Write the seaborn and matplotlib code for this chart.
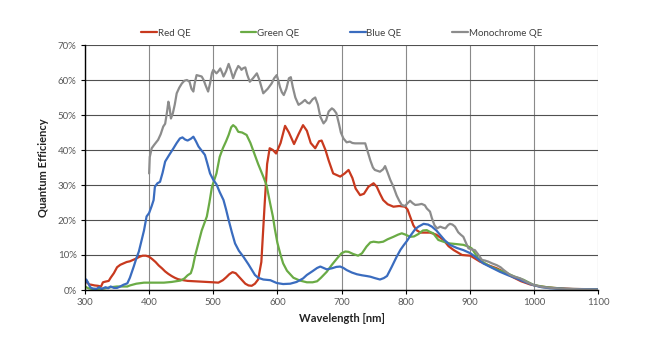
import matplotlib
matplotlib.use("Agg")
import matplotlib.pyplot as plt
import seaborn as sns
import pandas as pd
from matplotlib.ticker import PercentFormatter, MultipleLocator

red_wl = [300, 303, 306, 310, 315, 320, 325, 328, 332, 337, 340, 345, 350, 355, 360, 365, 370, 375, 380, 385,
          390, 395, 400, 405, 410, 415, 420, 425, 430, 435, 440, 445, 450, 460, 470, 480, 490, 500, 508, 515,
          520, 525, 530, 535, 540, 545, 550, 555, 560, 565, 570, 575, 580, 584, 588, 593, 598, 605, 612, 618,
          626, 633, 640, 646, 652, 659, 665, 669, 675, 680, 687, 698, 705, 711, 717, 722, 729, 735, 742, 750,
          755, 760, 765, 772, 781, 790, 799, 803, 808, 812, 817, 823, 838, 848, 859, 867, 875, 888, 901, 916,
          930, 942, 955, 968, 980, 994, 1010, 1030, 1060, 1100]
red_qe = [1.9, 2.5, 1.6, 1.5, 1.3, 1.2, 1.0, 2.2, 2.4, 2.6, 3.5, 4.8, 6.5, 7.2, 7.6, 8.0, 8.2, 8.6, 9.0, 9.5,
          9.8, 9.8, 9.5, 8.8, 8.0, 7.0, 6.2, 5.3, 4.6, 4.0, 3.5, 3.1, 2.9, 2.6, 2.5, 2.4, 2.3, 2.2, 2.1, 2.8,
          3.6, 4.5, 5.1, 4.8, 3.8, 2.8, 1.8, 1.3, 1.2, 1.8, 3.0, 8.0, 24.0, 36.0, 40.5, 40.0, 39.0, 42.0, 46.9, 45.0,
          41.7, 44.5, 47.1, 45.5, 42.0, 40.5, 42.5, 42.7, 40.0, 37.0, 33.3, 32.4, 33.3, 34.3, 32.0, 29.0, 27.1, 27.5, 29.5, 30.5,
          29.5, 27.5, 25.7, 24.5, 23.8, 24.0, 23.8, 23.0, 20.5, 18.5, 17.1, 16.4, 16.4, 15.8, 14.3, 12.5, 11.4, 10.0, 9.8, 8.1,
          7.0, 6.2, 5.0, 3.6, 2.5, 1.6, 1.0, 0.6, 0.3, 0.2]

green_wl = [300, 305, 310, 320, 330, 340, 350, 360, 366, 370, 380, 392, 410, 423, 435, 449, 455, 460, 465, 468,
            472, 477, 482, 490, 494, 498, 505, 510, 515, 520, 524, 528, 531, 535, 539, 545, 552, 558, 563, 570,
            578, 583, 589, 593, 596, 600, 605, 609, 615, 625, 635, 646, 655, 662, 668, 677, 685, 693, 700, 706,
            711, 718, 726, 732, 739, 745, 750, 758, 765, 772, 781, 788, 794, 800, 807, 813, 820, 827, 833, 838,
            843, 851, 859, 869, 880, 890, 898, 903, 908, 913, 922, 932, 945, 958, 970, 984, 1000, 1020, 1050, 1100]
green_qe = [1.0, 0.5, 0.3, 0.3, 0.4, 0.8, 1.0, 1.0, 1.0, 1.3, 1.8, 2.1, 2.1, 2.1, 2.3, 2.7, 3.3, 4.2, 4.8, 6.5,
            10.0, 13.5, 17.0, 21.0, 25.0, 29.5, 33.3, 38.0, 40.5, 42.5, 44.3, 46.5, 47.1, 46.5, 45.2, 45.0, 44.3, 42.0, 39.5, 36.0,
            32.4, 30.0, 24.5, 21.0, 17.5, 13.5, 10.0, 7.6, 5.5, 3.5, 2.7, 2.2, 2.2, 2.5, 3.5, 5.2, 7.2, 9.0, 10.5, 11.0,
            10.9, 10.3, 9.8, 10.5, 12.4, 13.6, 13.8, 13.6, 13.8, 14.5, 15.2, 15.8, 16.2, 15.8, 15.2, 15.3, 16.0, 17.0, 17.1, 16.6,
            16.2, 14.3, 13.8, 13.3, 13.1, 12.9, 12.4, 11.9, 10.5, 9.0, 7.8, 6.7, 5.7, 4.8, 3.8, 2.9, 1.4, 0.8, 0.3, 0.2]

blue_wl = [300, 302, 305, 308, 312, 318, 322, 326, 332, 336, 340, 345, 350, 355, 360, 366, 370, 376, 380, 384,
           388, 392, 396, 400, 404, 407, 409, 413, 417, 421, 425, 431, 438, 443, 448, 452, 456, 460, 465, 469,
           473, 477, 482, 487, 491, 495, 500, 505, 510, 516, 520, 524, 529, 534, 540, 547, 555, 560, 565, 570,
           578, 589, 599, 609, 620, 630, 640, 646, 655, 662, 667, 672, 677, 685, 692, 698, 703, 708, 716, 724,
           732, 739, 745, 752, 760, 766, 771, 778, 786, 792, 797, 802, 807, 815, 820, 828, 835, 841, 848, 854,
           861, 869, 880, 890, 901, 910, 921, 934, 947, 960, 973, 986, 999, 1012, 1025, 1050, 1100]
blue_qe = [1.8, 3.0, 2.0, 0.8, 0.4, 0.3, 0.8, 0.3, 0.8, 0.5, 1.0, 0.6, 0.6, 1.0, 1.5, 1.9, 3.5, 6.7, 9.0, 11.0,
           14.0, 17.0, 21.0, 22.0, 24.0, 25.7, 29.5, 30.5, 30.9, 33.5, 36.7, 38.5, 40.5, 42.0, 43.3, 43.6, 43.0, 42.7, 43.2, 43.8,
           42.5, 41.0, 39.8, 38.6, 36.0, 33.3, 31.5, 30.2, 28.0, 25.7, 23.0, 20.0, 16.5, 13.3, 11.2, 9.5, 7.3, 5.8, 4.3, 3.5,
           3.0, 2.8, 2.0, 1.7, 1.8, 2.3, 3.3, 4.3, 5.4, 6.3, 6.7, 6.3, 5.9, 6.2, 6.6, 6.7, 6.3, 5.7, 5.0, 4.5,
           4.2, 4.0, 3.8, 3.4, 3.0, 3.4, 4.0, 6.5, 9.5, 11.5, 12.8, 14.0, 15.4, 17.4, 18.1, 18.9, 18.7, 18.1, 17.0, 15.7,
           14.2, 12.9, 12.0, 11.4, 10.5, 9.3, 7.6, 6.4, 5.2, 4.2, 3.3, 2.3, 1.4, 0.8, 0.5, 0.3, 0.2]

mono_wl = [400, 401, 404, 408, 414, 418, 422, 425, 428, 430, 432, 434, 437, 440, 443, 447, 451, 455, 459, 463,
           466, 469, 471, 474, 478, 482, 485, 488, 492, 495, 498, 500, 505, 508, 511, 514, 516, 520, 524, 527,
           531, 535, 539, 542, 544, 547, 550, 553, 557, 562, 568, 572, 578, 585, 591, 595, 599, 602, 604, 607,
           610, 614, 618, 621, 624, 628, 633, 638, 643, 647, 650, 655, 659, 663, 667, 672, 676, 680, 685, 688,
           692, 696, 699, 703, 708, 713, 717, 721, 730, 737, 741, 745, 749, 752, 760, 765, 768, 772, 776, 781,
           786, 790, 794, 799, 803, 807, 811, 815, 820, 825, 830, 833, 838, 841, 845, 849, 854, 858, 862, 866,
           869, 873, 877, 882, 886, 890, 894, 898, 903, 908, 913, 919, 924, 929, 935, 942, 948, 953, 958, 963,
           970, 979, 990, 1000, 1015, 1040, 1070, 1100]
mono_qe = [33.3, 38.0, 40.5, 41.5, 42.9, 44.5, 46.7, 47.5, 51.0, 53.8, 52.0, 49.0, 50.5, 53.0, 56.2, 57.8, 59.0, 59.8, 60.0, 59.5,
           57.5, 56.7, 59.0, 61.4, 61.2, 61.0, 60.0, 58.5, 56.7, 59.0, 62.0, 62.9, 61.9, 62.5, 63.3, 62.0, 61.0, 62.5, 64.6, 63.0,
           60.5, 62.5, 64.0, 63.5, 62.9, 63.4, 63.6, 61.5, 59.5, 60.5, 61.9, 60.0, 56.2, 57.5, 59.0, 60.5, 61.4, 59.5, 58.0, 56.5,
           55.7, 57.5, 60.5, 60.8, 58.0, 55.0, 52.9, 53.5, 54.3, 53.5, 53.3, 54.5, 55.0, 53.0, 49.5, 47.6, 48.5, 51.0, 51.9, 51.5,
           50.5, 47.5, 45.0, 43.3, 42.2, 42.4, 42.0, 41.9, 41.9, 41.9, 39.5, 37.0, 35.0, 34.3, 33.8, 34.5, 35.4, 33.5, 31.5, 29.5,
           27.0, 25.5, 24.3, 24.0, 24.8, 25.5, 24.8, 24.3, 24.4, 24.6, 24.2, 23.3, 22.4, 20.5, 18.5, 17.6, 18.1, 17.8, 17.6, 18.5,
           18.9, 18.7, 18.1, 16.5, 15.8, 15.2, 13.5, 11.9, 11.6, 11.4, 10.2, 8.6, 8.4, 8.1, 7.6, 7.1, 6.5, 5.7, 5.0, 4.3,
           3.8, 3.3, 2.2, 1.4, 0.8, 0.4, 0.2, 0.1]

series_names = ["Red QE", "Green QE", "Blue QE", "Monochrome QE"]
series_colors = ["#C8391E", "#6AAB45", "#3A6CBF", "#8C8C8C"]

frames = []
for name, wl, qe in zip(series_names,
                        [red_wl, green_wl, blue_wl, mono_wl],
                        [red_qe, green_qe, blue_qe, mono_qe]):
    frames.append(pd.DataFrame({"Wavelength": wl, "QE": [v / 100 for v in qe], "Series": name}))
df = pd.concat(frames, ignore_index=True)

sns.set_style("white")
plt.rcParams["font.family"] = ["Lato", "DejaVu Sans"]

fig = plt.figure(figsize=(6.5, 3.5), dpi=100)
ax = fig.add_axes([85 / 650, 1 - 290 / 350, (598 - 85) / 650, (290 - 45) / 350])

sns.lineplot(data=df, x="Wavelength", y="QE", hue="Series", hue_order=series_names,
             palette=dict(zip(series_names, series_colors)), linewidth=1.6, sort=False,
             estimator=None, ax=ax)

ax.set_xlim(300, 1100)
ax.set_ylim(0, 0.70)
ax.xaxis.set_major_locator(MultipleLocator(100))
ax.yaxis.set_major_locator(MultipleLocator(0.10))
ax.yaxis.set_major_formatter(PercentFormatter(1.0, decimals=0))

ax.grid(axis="y", color="#505050", linewidth=0.8)
ax.grid(axis="x", color="#8a8a8a", linewidth=0.8)
ax.set_axisbelow(True)
for s in ["top", "right"]:
    ax.spines[s].set_visible(False)
for s in ["left", "bottom"]:
    ax.spines[s].set_color("black")
    ax.spines[s].set_linewidth(1.0)

ax.tick_params(axis="both", which="major", direction="out", length=3, width=0.8,
               color="black", labelsize=7, labelcolor="#595959", bottom=True, left=True, pad=3)

ax.set_xlabel("Wavelength [nm]", fontsize=8, fontweight="bold", color="#222222", labelpad=4)
ax.set_ylabel("Quantum Efficiency", fontsize=8, fontweight="bold", color="#222222", labelpad=6)

leg = ax.legend(loc="center", bbox_to_anchor=(0.5, 1 + 12 / 245), ncol=4, frameon=False,
                fontsize=7, handlelength=1.6, handletextpad=0.1, columnspacing=5.2, labelcolor="#404040")
for line in leg.get_lines():
    line.set_linewidth(1.6)

fig.savefig("out.png", dpi=100)
